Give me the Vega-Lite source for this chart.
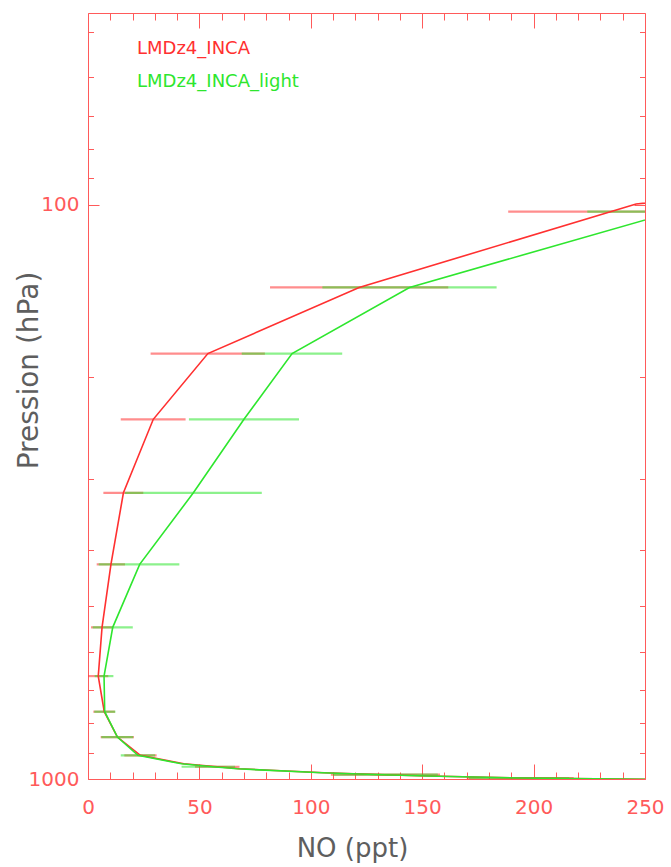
{
  "$schema": "https://vega.github.io/schema/vega-lite/v6.json",
  "width": 557,
  "height": 766,
  "autosize": {"type": "none"},
  "padding": {"left": 88, "top": 13, "right": 26, "bottom": 88},
  "background": "white",
  "config": {"view": {"stroke": null}, "font": "DejaVu Sans"},
  "datasets": {
    "profiles": [
      {"model": "LMDz4_INCA", "pressure": 90, "no": 350},
      {"model": "LMDz4_INCA", "pressure": 99.8, "no": 246},
      {"model": "LMDz4_INCA", "pressure": 139.4, "no": 121.7},
      {"model": "LMDz4_INCA", "pressure": 181.7, "no": 53.8},
      {"model": "LMDz4_INCA", "pressure": 236.5, "no": 29.3},
      {"model": "LMDz4_INCA", "pressure": 317.5, "no": 15.9},
      {"model": "LMDz4_INCA", "pressure": 423, "no": 10.3},
      {"model": "LMDz4_INCA", "pressure": 544.5, "no": 6.3},
      {"model": "LMDz4_INCA", "pressure": 662, "no": 4.6},
      {"model": "LMDz4_INCA", "pressure": 763.6, "no": 7.3},
      {"model": "LMDz4_INCA", "pressure": 845.3, "no": 13.2},
      {"model": "LMDz4_INCA", "pressure": 909.4, "no": 23.5},
      {"model": "LMDz4_INCA", "pressure": 941, "no": 43},
      {"model": "LMDz4_INCA", "pressure": 952, "no": 58},
      {"model": "LMDz4_INCA", "pressure": 960, "no": 68},
      {"model": "LMDz4_INCA", "pressure": 975, "no": 106},
      {"model": "LMDz4_INCA", "pressure": 983, "no": 133},
      {"model": "LMDz4_INCA", "pressure": 988, "no": 153},
      {"model": "LMDz4_INCA", "pressure": 996, "no": 194},
      {"model": "LMDz4_INCA", "pressure": 1002, "no": 262},
      {"model": "LMDz4_INCA_light", "pressure": 99.8, "no": 275},
      {"model": "LMDz4_INCA_light", "pressure": 139.4, "no": 144.3},
      {"model": "LMDz4_INCA_light", "pressure": 181.7, "no": 91.6},
      {"model": "LMDz4_INCA_light", "pressure": 236.5, "no": 70},
      {"model": "LMDz4_INCA_light", "pressure": 317.5, "no": 47.3},
      {"model": "LMDz4_INCA_light", "pressure": 423, "no": 23.2},
      {"model": "LMDz4_INCA_light", "pressure": 544.5, "no": 11.1},
      {"model": "LMDz4_INCA_light", "pressure": 662, "no": 7.2},
      {"model": "LMDz4_INCA_light", "pressure": 763.6, "no": 7.5},
      {"model": "LMDz4_INCA_light", "pressure": 845.3, "no": 13.2},
      {"model": "LMDz4_INCA_light", "pressure": 909.4, "no": 22.4},
      {"model": "LMDz4_INCA_light", "pressure": 941, "no": 42},
      {"model": "LMDz4_INCA_light", "pressure": 952, "no": 56},
      {"model": "LMDz4_INCA_light", "pressure": 960, "no": 67},
      {"model": "LMDz4_INCA_light", "pressure": 975, "no": 105},
      {"model": "LMDz4_INCA_light", "pressure": 983, "no": 132},
      {"model": "LMDz4_INCA_light", "pressure": 988, "no": 152},
      {"model": "LMDz4_INCA_light", "pressure": 996, "no": 194},
      {"model": "LMDz4_INCA_light", "pressure": 1002, "no": 262}
    ],
    "errorbars": [
      {"model": "LMDz4_INCA", "pressure": 102.9, "low": 188.6, "high": 304},
      {"model": "LMDz4_INCA", "pressure": 139.4, "low": 81.7, "high": 161.7},
      {"model": "LMDz4_INCA", "pressure": 181.7, "low": 28.1, "high": 79.4},
      {"model": "LMDz4_INCA", "pressure": 236.5, "low": 14.7, "high": 43.8},
      {"model": "LMDz4_INCA", "pressure": 317.5, "low": 6.9, "high": 24.8},
      {"model": "LMDz4_INCA", "pressure": 423, "low": 3.9, "high": 16.6},
      {"model": "LMDz4_INCA", "pressure": 544.5, "low": 1.35, "high": 11.35},
      {"model": "LMDz4_INCA", "pressure": 662, "low": 0.13, "high": 9.1},
      {"model": "LMDz4_INCA", "pressure": 763.6, "low": 2.4, "high": 12.1},
      {"model": "LMDz4_INCA", "pressure": 845.3, "low": 5.7, "high": 20.6},
      {"model": "LMDz4_INCA", "pressure": 909.4, "low": 16.3, "high": 30.8},
      {"model": "LMDz4_INCA", "pressure": 952, "low": 48, "high": 68},
      {"model": "LMDz4_INCA", "pressure": 983, "low": 109, "high": 158},
      {"model": "LMDz4_INCA", "pressure": 996, "low": 170, "high": 218},
      {"model": "LMDz4_INCA_light", "pressure": 102.9, "low": 224.1, "high": 326},
      {"model": "LMDz4_INCA_light", "pressure": 139.4, "low": 105.2, "high": 183.4},
      {"model": "LMDz4_INCA_light", "pressure": 181.7, "low": 69, "high": 114.1},
      {"model": "LMDz4_INCA_light", "pressure": 236.5, "low": 45.3, "high": 94.7},
      {"model": "LMDz4_INCA_light", "pressure": 317.5, "low": 16.6, "high": 78},
      {"model": "LMDz4_INCA_light", "pressure": 423, "low": 4.8, "high": 41},
      {"model": "LMDz4_INCA_light", "pressure": 544.5, "low": 2.1, "high": 20.1},
      {"model": "LMDz4_INCA_light", "pressure": 662, "low": 3, "high": 11.4},
      {"model": "LMDz4_INCA_light", "pressure": 763.6, "low": 2.8, "high": 12.3},
      {"model": "LMDz4_INCA_light", "pressure": 845.3, "low": 6, "high": 20.3},
      {"model": "LMDz4_INCA_light", "pressure": 909.4, "low": 14.7, "high": 30.1},
      {"model": "LMDz4_INCA_light", "pressure": 952, "low": 42, "high": 66},
      {"model": "LMDz4_INCA_light", "pressure": 983, "low": 110, "high": 157},
      {"model": "LMDz4_INCA_light", "pressure": 996, "low": 171, "high": 216}
    ]
  },
  "layer": [
    {
      "data": {"name": "errorbars"},
      "mark": {"type": "rule", "clip": true, "strokeWidth": 2.2, "opacity": 0.55},
      "encoding": {
        "x": {
          "field": "low", "type": "quantitative",
          "scale": {"domain": [0, 250], "nice": false, "zero": false},
          "axis": {
            "orient": "bottom",
            "values": [0, 10, 20, 30, 40, 50, 60, 70, 80, 90, 100, 110, 120, 130, 140, 150, 160, 170, 180, 190, 200, 210, 220, 230, 240, 250],
            "title": "NO (ppt)",
            "grid": false,
            "domainColor": "#ff5a5a",
            "tickColor": "#ff5a5a",
            "tickSize": {"condition": {"test": "datum.value % 50 === 0", "value": -15}, "value": -7},
            "labelExpr": "datum.value % 50 === 0 ? datum.label : ''",
            "format": "d",
            "labelColor": "#ff5a5a",
            "labelFont": "DejaVu Sans",
            "labelFontSize": 20,
            "labelBaseline": "middle",
            "labelPadding": 43,
            "labelFlush": false,
            "labelOverlap": false,
            "titleColor": "#5e5e5e",
            "titleFont": "DejaVu Sans",
            "titleFontSize": 26,
            "titleFontWeight": "normal",
            "titleX": 264,
            "titleY": 69,
            "titleBaseline": "middle",
            "titleAlign": "center"
          }
        },
        "x2": {"field": "high"},
        "y": {
          "field": "pressure", "type": "quantitative",
          "scale": {"type": "log", "domain": [46.4, 1000], "reverse": true, "nice": false},
          "axis": {
            "orient": "left",
            "values": [50, 60, 70, 80, 90, 100, 200, 300, 400, 500, 600, 700, 800, 900, 1000],
            "title": "Pression (hPa)",
            "grid": false,
            "domainColor": "#ff5a5a",
            "tickColor": "#ff5a5a",
            "tickSize": {"condition": {"test": "datum.value === 100 || datum.value === 1000", "value": -11}, "value": -5.5},
            "labelExpr": "datum.value === 100 || datum.value === 1000 ? datum.label : ''",
            "format": "d",
            "labelColor": "#ff5a5a",
            "labelFont": "DejaVu Sans",
            "labelFontSize": 20,
            "labelBaseline": "middle",
            "labelAlign": "right",
            "labelPadding": 20,
            "labelFlush": false,
            "labelOverlap": false,
            "titleColor": "#5e5e5e",
            "titleFont": "DejaVu Sans",
            "titleFontSize": 28,
            "titleFontWeight": "normal",
            "titleAngle": -90,
            "titleX": -59,
            "titleY": 357,
            "titleBaseline": "middle",
            "titleAlign": "center"
          }
        },
        "color": {
          "field": "model", "type": "nominal",
          "scale": {"domain": ["LMDz4_INCA", "LMDz4_INCA_light"], "range": ["#ff3030", "#2ee62e"]},
          "legend": {
            "orient": "none", "legendX": 31, "legendY": 27, "direction": "vertical", "title": null,
            "symbolSize": 0, "symbolOpacity": 0, "symbolStrokeWidth": 0, "labelOffset": 0, "padding": 0,
            "rowPadding": 15, "labelFontSize": 18, "labelFont": "DejaVu Sans", "labelLimit": 500,
            "labelColor": {"expr": "datum.value == 'LMDz4_INCA' ? '#ff3030' : '#2ee62e'"}
          }
        }
      }
    },
    {
      "data": {"name": "profiles"},
      "mark": {"type": "line", "clip": true, "strokeWidth": 1.6},
      "encoding": {
        "x": {
          "field": "no", "type": "quantitative",
          "scale": {"domain": [0, 250], "nice": false, "zero": false},
          "axis": {
            "orient": "top",
            "values": [0, 10, 20, 30, 40, 50, 60, 70, 80, 90, 100, 110, 120, 130, 140, 150, 160, 170, 180, 190, 200, 210, 220, 230, 240, 250],
            "title": null,
            "labels": false,
            "grid": false,
            "domainColor": "#ff5a5a",
            "tickColor": "#ff5a5a",
            "tickSize": {"condition": {"test": "datum.value % 50 === 0", "value": -15}, "value": -7}
          }
        },
        "y": {
          "field": "pressure", "type": "quantitative",
          "scale": {"type": "log", "domain": [46.4, 1000], "reverse": true, "nice": false},
          "axis": {
            "orient": "right",
            "values": [50, 60, 70, 80, 90, 100, 200, 300, 400, 500, 600, 700, 800, 900, 1000],
            "title": null,
            "labels": false,
            "grid": false,
            "domainColor": "#ff5a5a",
            "tickColor": "#ff5a5a",
            "tickSize": {"condition": {"test": "datum.value === 100 || datum.value === 1000", "value": -11}, "value": -5.5}
          }
        },
        "order": {"field": "pressure", "type": "quantitative"},
        "color": {
          "field": "model", "type": "nominal",
          "scale": {"domain": ["LMDz4_INCA", "LMDz4_INCA_light"], "range": ["#ff3030", "#2ee62e"]},
          "legend": {
            "orient": "none", "legendX": 31, "legendY": 27, "direction": "vertical", "title": null,
            "symbolSize": 0, "symbolOpacity": 0, "symbolStrokeWidth": 0, "labelOffset": 0, "padding": 0,
            "rowPadding": 15, "labelFontSize": 18, "labelFont": "DejaVu Sans", "labelLimit": 500,
            "labelColor": {"expr": "datum.value == 'LMDz4_INCA' ? '#ff3030' : '#2ee62e'"}
          }
        }
      }
    }
  ],
  "resolve": {"axis": {"x": "independent", "y": "independent"}}
}
